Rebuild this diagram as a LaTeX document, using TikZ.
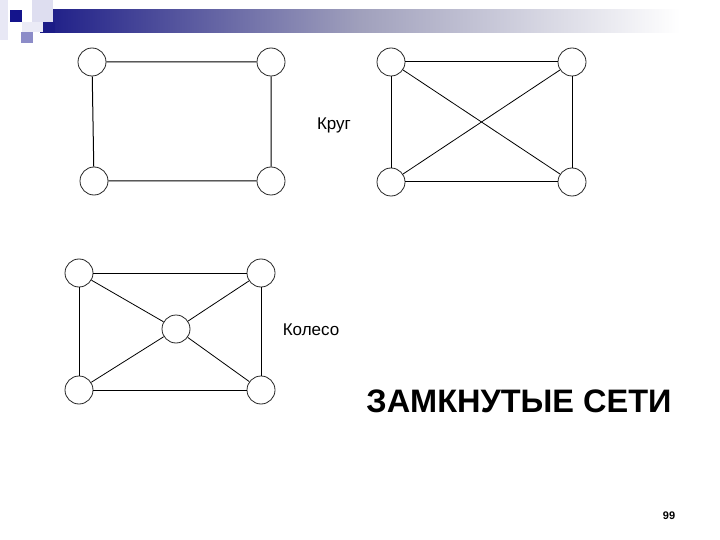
\documentclass[tikz,border=0pt]{standalone}
\usepackage{fontspec}
\setmainfont{Liberation Sans}
\definecolor{navy}{RGB}{28,28,135}
\definecolor{barmid}{RGB}{160,160,188}
\definecolor{sqdark}{RGB}{20,20,140}
\definecolor{sqmid}{RGB}{140,140,200}
\definecolor{sqlight}{RGB}{222,222,240}
\begin{document}
\begin{tikzpicture}[x=1pt,y=-1pt,
  vert/.style={circle,draw=black!85,fill=white,minimum size=28pt,inner sep=0pt,line width=0.8pt},
  edge/.style={line width=1pt,black},
  lbl/.style={font=\fontsize{17}{20}\selectfont,inner sep=0pt}]
\useasboundingbox (0,0) rectangle (720,540);
% header decoration
\shade[left color=navy, right color=white, middle color=barmid] (40,10) rectangle (680,33);
\fill[sqlight] (32,0) rectangle (53,22);
\fill[sqlight!70] (0,0) rectangle (8,40);
\fill[sqlight!60] (22,22) rectangle (43,32);
\fill[sqdark] (10,10) rectangle (22,22);
\fill[sqmid] (21,32) rectangle (33,43);
\fill[navy] (43,22) rectangle (55,33);
% top-left: Krug
\node[vert] (a1) at (92,62) {};
\node[vert] (a2) at (271,62) {};
\node[vert] (a3) at (94,181) {};
\node[vert] (a4) at (271,181) {};
\draw[edge] (a1) -- (a2) (a2) -- (a4) (a4) -- (a3) (a3) -- (a1);
\node[lbl] (krug) at (334,125) {Круг};
% top-right
\node[vert] (b1) at (391,62) {};
\node[vert] (b2) at (572,62) {};
\node[vert] (b3) at (391,182) {};
\node[vert] (b4) at (572,182) {};
\draw[edge] (b1) -- (b2) (b2) -- (b4) (b4) -- (b3) (b3) -- (b1);
\draw[edge,line width=0.8pt] (b1) -- (b4) (b2) -- (b3);
% bottom: Koleso
\node[vert] (c1) at (79,273) {};
\node[vert] (c2) at (261,273) {};
\node[vert] (c0) at (176,329) {};
\node[vert] (c3) at (79,390) {};
\node[vert] (c4) at (261,390) {};
\draw[edge] (c1) -- (c2) (c2) -- (c4) (c4) -- (c3) (c3) -- (c1);
\draw[edge,line width=0.8pt] (c0) -- (c1) (c0) -- (c2) (c0) -- (c3) (c0) -- (c4);
\node[lbl] (koleso) at (311,330) {Колесо};
% title
\node[inner sep=0pt,font=\fontsize{32.5}{36}\bfseries] (title) at (519,401) {ЗАМКНУТЫЕ СЕТИ};
\node[inner sep=0pt,font=\fontsize{11}{12}\bfseries] (num) at (669,516) {99};
\end{tikzpicture}
\end{document}
